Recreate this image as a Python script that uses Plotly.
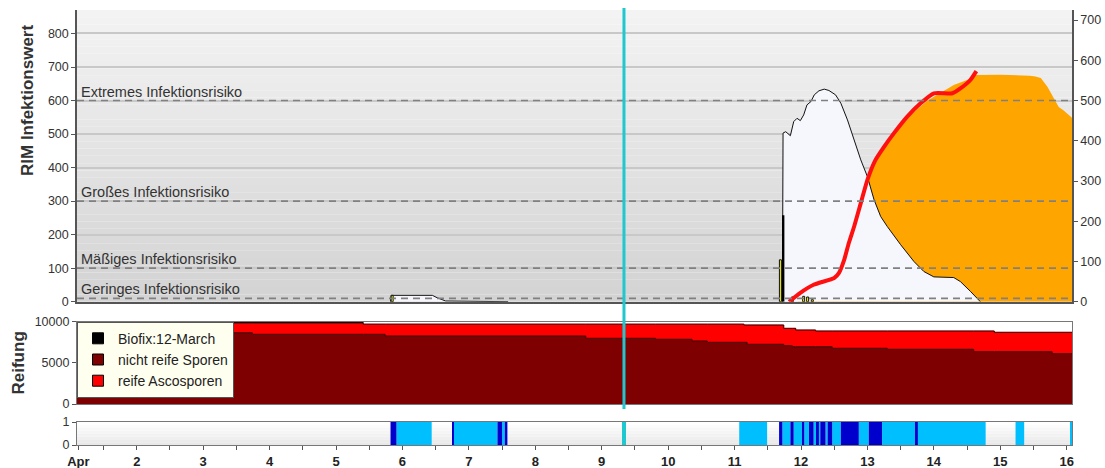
import plotly.graph_objects as go

# ---------------- top panel: RIM infection value (left axis) ----------------
rim_day = [5.82, 5.83, 6.45, 6.52, 6.65, 7.58, 7.59, None,
           11.72, 11.73, 11.77, 11.84, 11.89, 11.94, 11.99, 12.04, 12.09, 12.15,
           12.20, 12.27, 12.35, 12.42, 12.52, 12.60, 12.70, 12.80, 12.90, 13.00,
           13.10, 13.20, 13.30, 13.50, 13.70, 13.85, 14.00, 14.30, 14.40, 14.55, 14.70]
rim_val = [0, 19, 19, 12, 2, 2, 0, None,
           0, 503, 507, 495, 537, 547, 540, 557, 587, 597,
           617, 629, 634, 630, 617, 592, 542, 483, 423, 373,
           304, 254, 224, 170, 120, 90, 74, 72, 60, 31, 0]

# accumulated spore load (orange area, left-axis units)
load_day = [11.95, 12.20, 12.50, 12.80, 13.00, 13.10, 13.20, 13.30, 13.50, 13.70,
            13.90, 14.10, 14.30, 14.50, 14.63, 15.00, 15.30, 15.45, 15.53, 15.61,
            15.71, 15.80, 15.88, 15.95, 16.06, 16.08]
load_val = [0, 60, 170, 290, 373, 422, 452, 477, 522, 566,
            599, 623, 646, 661, 676, 677, 676, 674, 672, 667,
            641, 611, 581, 571, 551, 549]

# cumulative infection curve (red line, right axis)
cum_day = [11.82, 11.99, 12.19, 12.50, 12.57, 12.65, 12.72, 12.80, 12.90, 13.00,
           13.12, 13.25, 13.40, 13.60, 13.80, 14.00, 14.28, 14.40, 14.55, 14.64]
cum_val = [0, 22, 42, 59, 71, 104, 146, 187, 245, 303,
           352, 385, 419, 460, 493, 518, 518, 530, 551, 573]

# hourly discharge bars
wet_day = [5.845, 11.69, 11.87, 12.04, 12.10, 12.17]
wet_val = [19, 125, 14, 16, 14, 6]
spike_day = [11.735]
spike_val = [258]

# infection risk thresholds
risk_levels = [600, 300, 100, 10]
risk_labels = ["Extremes Infektionsrisiko", "Großes Infektionsrisiko",
               "Mäßiges Infektionsrisiko", "Geringes Infektionsrisiko"]

# ---------------- middle panel: spore maturation ----------------
mat_day = [1.10, 3.74, 5.41, 5.74, 8.76, 9.81, 10.36, 10.59, 11.14, 11.19,
           11.74, 11.87, 11.92, 12.22, 12.47, 13.30, 14.60, 14.91, 15.78, 16.08]
unripe = [8663, 8469, 8469, 8262, 7983, 7862, 7655, 7497, 7497, 7254,
          7084, 6962, 6962, 6962, 6768, 6646, 6355, 6355, 6112, 6112]
ripe = [1143, 1337, 1231, 1438, 1717, 1838, 2045, 2203, 2102, 2345,
        2111, 2233, 2029, 1908, 2102, 2224, 2515, 2357, 2600, 2600]
biofix = [194, 194, 0, 0, 0, 0, 0, 0, 0, 0,
          0, 0, 0, 0, 0, 0, 0, 0, 0, 0]
mat_names = ["Biofix:12-March", "nicht reife Sporen", "reife Ascosporen"]

# ---------------- bottom strip: leaf wetness ----------------
wet_start = [5.91, 6.77, 7.50, 11.07, 11.72, 11.89, 12.05, 12.19, 12.27, 12.37,
             12.47, 12.87, 13.22, 13.76, 15.23, 16.05]
wet_end = [6.44, 7.43, 7.54, 11.49, 11.84, 12.02, 12.12, 12.24, 12.29, 12.40,
           12.60, 13.02, 13.73, 14.78, 15.36, 16.08]
rain_start = [5.82, 6.75, 7.43, 7.54, 11.67, 11.84, 12.02, 12.12, 12.24, 12.29,
              12.40, 12.60, 13.02, 13.73]
rain_end = [5.91, 6.77, 7.50, 7.58, 11.72, 11.89, 12.05, 12.19, 12.27, 12.37,
            12.47, 12.87, 13.22, 13.76]

today = 9.335
day_ticks = [1.12] + list(range(2, 17))
day_text = ["Apr"] + [str(d) for d in range(2, 17)]

# ---------------- layout geometry ----------------
W, H = 1105, 468
def py(p):
    return (H - p) / H

XDOM = [77 / W, 1072 / W]
XR = [1.10, 16.08]
TOP = [py(301.7), py(10)]
MID = [py(404), py(321.7)]
STR = [py(445), py(422)]

FONT = "Liberation Sans, Arial, sans-serif"
AX = "#555555"
TXT = "#333333"

fig = go.Figure()

fig.add_trace(go.Scatter(x=load_day, y=load_val, mode="lines", fill="tozeroy",
                         fillcolor="#ffa500", line=dict(width=0, color="#ffa500"),
                         xaxis="x", yaxis="y", showlegend=False, hoverinfo="skip"))
fig.add_trace(go.Scatter(x=rim_day, y=rim_val, mode="lines", fill="tozeroy",
                         fillcolor="#f6f7fd", line=dict(width=1, color="#111111"),
                         xaxis="x", yaxis="y", showlegend=False))
fig.add_trace(go.Bar(x=wet_day, y=wet_val, width=0.03, marker=dict(color="#ffff00", line=dict(color="#111", width=1)),
                     xaxis="x", yaxis="y4", showlegend=False))
fig.add_trace(go.Bar(x=spike_day, y=spike_val, width=0.03, marker=dict(color="#000000", line=dict(width=0)),
                     xaxis="x", yaxis="y4", showlegend=False))
fig.add_trace(go.Scatter(x=cum_day, y=cum_val, mode="lines",
                         line=dict(color="#ff1010", width=4, shape="spline", smoothing=0.5),
                         xaxis="x", yaxis="y5", showlegend=False))

# maturation stack
fig.add_trace(go.Scatter(x=mat_day, y=unripe, stackgroup="mat", line_shape="hv",
                         fillcolor="#7e0000", line=dict(color="#3a0000", width=1),
                         xaxis="x2", yaxis="y2", showlegend=False))
fig.add_trace(go.Scatter(x=mat_day, y=ripe, stackgroup="mat", line_shape="hv",
                         fillcolor="#ff0000", line=dict(color="#900000", width=1),
                         xaxis="x2", yaxis="y2", showlegend=False))
fig.add_trace(go.Scatter(x=mat_day, y=biofix, stackgroup="mat", line_shape="hv",
                         fillcolor="#000000", line=dict(color="#000000", width=0.5),
                         xaxis="x2", yaxis="y2", showlegend=False))
for name, col in zip(mat_names, ["#000000", "#7e0000", "#ff0000"]):
    fig.add_trace(go.Scatter(x=[None], y=[None], mode="markers", name=name,
                             marker=dict(symbol="square", size=11, color=col,
                                         line=dict(color="#000", width=1)),
                             xaxis="x2", yaxis="y2"))

# wetness strip
fig.add_trace(go.Bar(y=[0.5] * len(wet_start), base=wet_start,
                     x=[e - s for s, e in zip(wet_start, wet_end)], orientation="h", width=1,
                     marker=dict(color="#00bfff", line=dict(width=0)),
                     xaxis="x3", yaxis="y3", showlegend=False))
fig.add_trace(go.Bar(y=[0.5] * len(rain_start), base=rain_start,
                     x=[e - s for s, e in zip(rain_start, rain_end)], orientation="h", width=1,
                     marker=dict(color="#0000cd", line=dict(width=0)),
                     xaxis="x3", yaxis="y3", showlegend=False))

# background gradients
n_bands = 40
for i in range(n_bands):
    t = i / (n_bands - 1)
    c = int(round(243 - (243 - 211) * t))
    fig.add_shape(type="rect", xref="x domain", yref="y domain", x0=0, x1=1,
                  y0=1 - (i + 1) / n_bands, y1=1 - i / n_bands,
                  fillcolor=f"rgb({c},{c},{c})", line_width=0, layer="below")
for i in range(8):
    t = i / 7
    c = int(round(255 - (255 - 232) * t))
    fig.add_shape(type="rect", xref="x3 domain", yref="y3 domain", x0=0, x1=1,
                  y0=1 - (i + 1) / 8, y1=1 - i / 8,
                  fillcolor=f"rgb({c},{c},{c})", line_width=0, layer="below")

# risk thresholds
for lvl, lab in zip(risk_levels, risk_labels):
    fig.add_shape(type="line", xref="x domain", yref="y", x0=0, x1=1, y0=lvl, y1=lvl,
                  line=dict(color="#808080", width=1.6, dash="7px,5px"), layer="above")
    fig.add_annotation(x=1.15, y=lvl, xref="x", yref="y", text=lab, showarrow=False,
                       xanchor="left", yanchor="bottom", font=dict(family=FONT, size=14.5, color=TXT),
                       borderpad=0)

# current date marker
fig.add_shape(type="line", xref="x", yref="paper", x0=today, x1=today, y0=py(409), y1=py(8),
              line=dict(color="#1fc7cf", width=3), layer="above")
fig.add_shape(type="line", xref="x3", yref="y3", x0=today, x1=today, y0=0, y1=1,
              line=dict(color="#1fc7cf", width=4), layer="above")

# axis titles
fig.add_annotation(x=27 / W, y=py(101), xref="paper", yref="paper", text="<b>RIM Infektionswert</b>",
                   textangle=-90, showarrow=False, xanchor="center", yanchor="middle",
                   font=dict(family=FONT, size=17, color=TXT))
fig.add_annotation(x=17.5 / W, y=py(363), xref="paper", yref="paper", text="<b>Reifung</b>",
                   textangle=-90, showarrow=False, xanchor="center", yanchor="middle",
                   font=dict(family=FONT, size=17, color=TXT))

tickfont = dict(family=FONT, size=12.5, color=TXT)
fig.update_layout(
    width=W, height=H, margin=dict(l=0, r=0, t=0, b=0, autoexpand=False),
    paper_bgcolor="white", plot_bgcolor="white",
    barmode="overlay",
    font=dict(family=FONT, color=TXT),
    xaxis=dict(domain=XDOM, range=XR, anchor="y", showticklabels=False, ticks="",
               showgrid=False, zeroline=False, showline=True, linecolor=AX, linewidth=1.5,
               automargin=False),
    yaxis=dict(domain=TOP, range=[0, 870], anchor="x", tickvals=list(range(0, 900, 100)),
               ticks="outside", ticklen=4, tickcolor=AX, tickfont=tickfont,
               showgrid=True, gridcolor="#c8c8c8", gridwidth=1.5, zeroline=False,
               showline=True, linecolor=AX, linewidth=1.5, automargin=False),
    yaxis4=dict(overlaying="y", range=[0, 870], visible=False),
    yaxis5=dict(overlaying="y", side="right", anchor="x", range=[0, 725],
                tickvals=list(range(0, 800, 100)), ticks="outside", ticklen=4, tickcolor=AX,
                tickfont=tickfont, showgrid=False, zeroline=False,
                showline=True, linecolor=AX, linewidth=1.5, automargin=False),
    xaxis2=dict(domain=XDOM, range=XR, anchor="y2", showticklabels=False, ticks="",
                showgrid=False, zeroline=False, showline=True, mirror=True,
                linecolor="#777", linewidth=1.2, automargin=False),
    yaxis2=dict(domain=MID, range=[0, 10000], anchor="x2", tickvals=[0, 5000, 10000],
                ticktext=["0", "5000", "10000"],
                ticks="outside", ticklen=4, tickcolor=AX, tickfont=tickfont,
                showgrid=False, zeroline=False, showline=True, mirror=True,
                linecolor="#777", linewidth=1.2, automargin=False),
    xaxis3=dict(domain=XDOM, range=XR, anchor="y3",
                tickvals=day_ticks + [d + 0.5 for d in range(1, 16)],
                ticktext=[f"<b>{t}</b>" for t in day_text] + [""] * 15,
                ticks="outside", ticklen=4, tickcolor=AX,
                tickfont=dict(family=FONT, size=13, color="#222"),
                showgrid=False, zeroline=False, showline=True, mirror=True,
                linecolor="#777", linewidth=1.2, automargin=False),
    yaxis3=dict(domain=STR, range=[0, 1], anchor="x3", tickvals=[0, 1],
                ticks="outside", ticklen=4, tickcolor=AX, tickfont=tickfont,
                showgrid=False, zeroline=False, showline=True, mirror=True,
                linecolor="#777", linewidth=1.2, automargin=False),
    legend=dict(x=XDOM[0], y=MID[1], xanchor="left", yanchor="top",
                bgcolor="#fffff0", bordercolor="#555", borderwidth=1,
                font=dict(family=FONT, size=14, color="#222"),
                itemwidth=30, tracegroupgap=0, traceorder="normal"),
    showlegend=True,
)

fig.write_html("out.html")
